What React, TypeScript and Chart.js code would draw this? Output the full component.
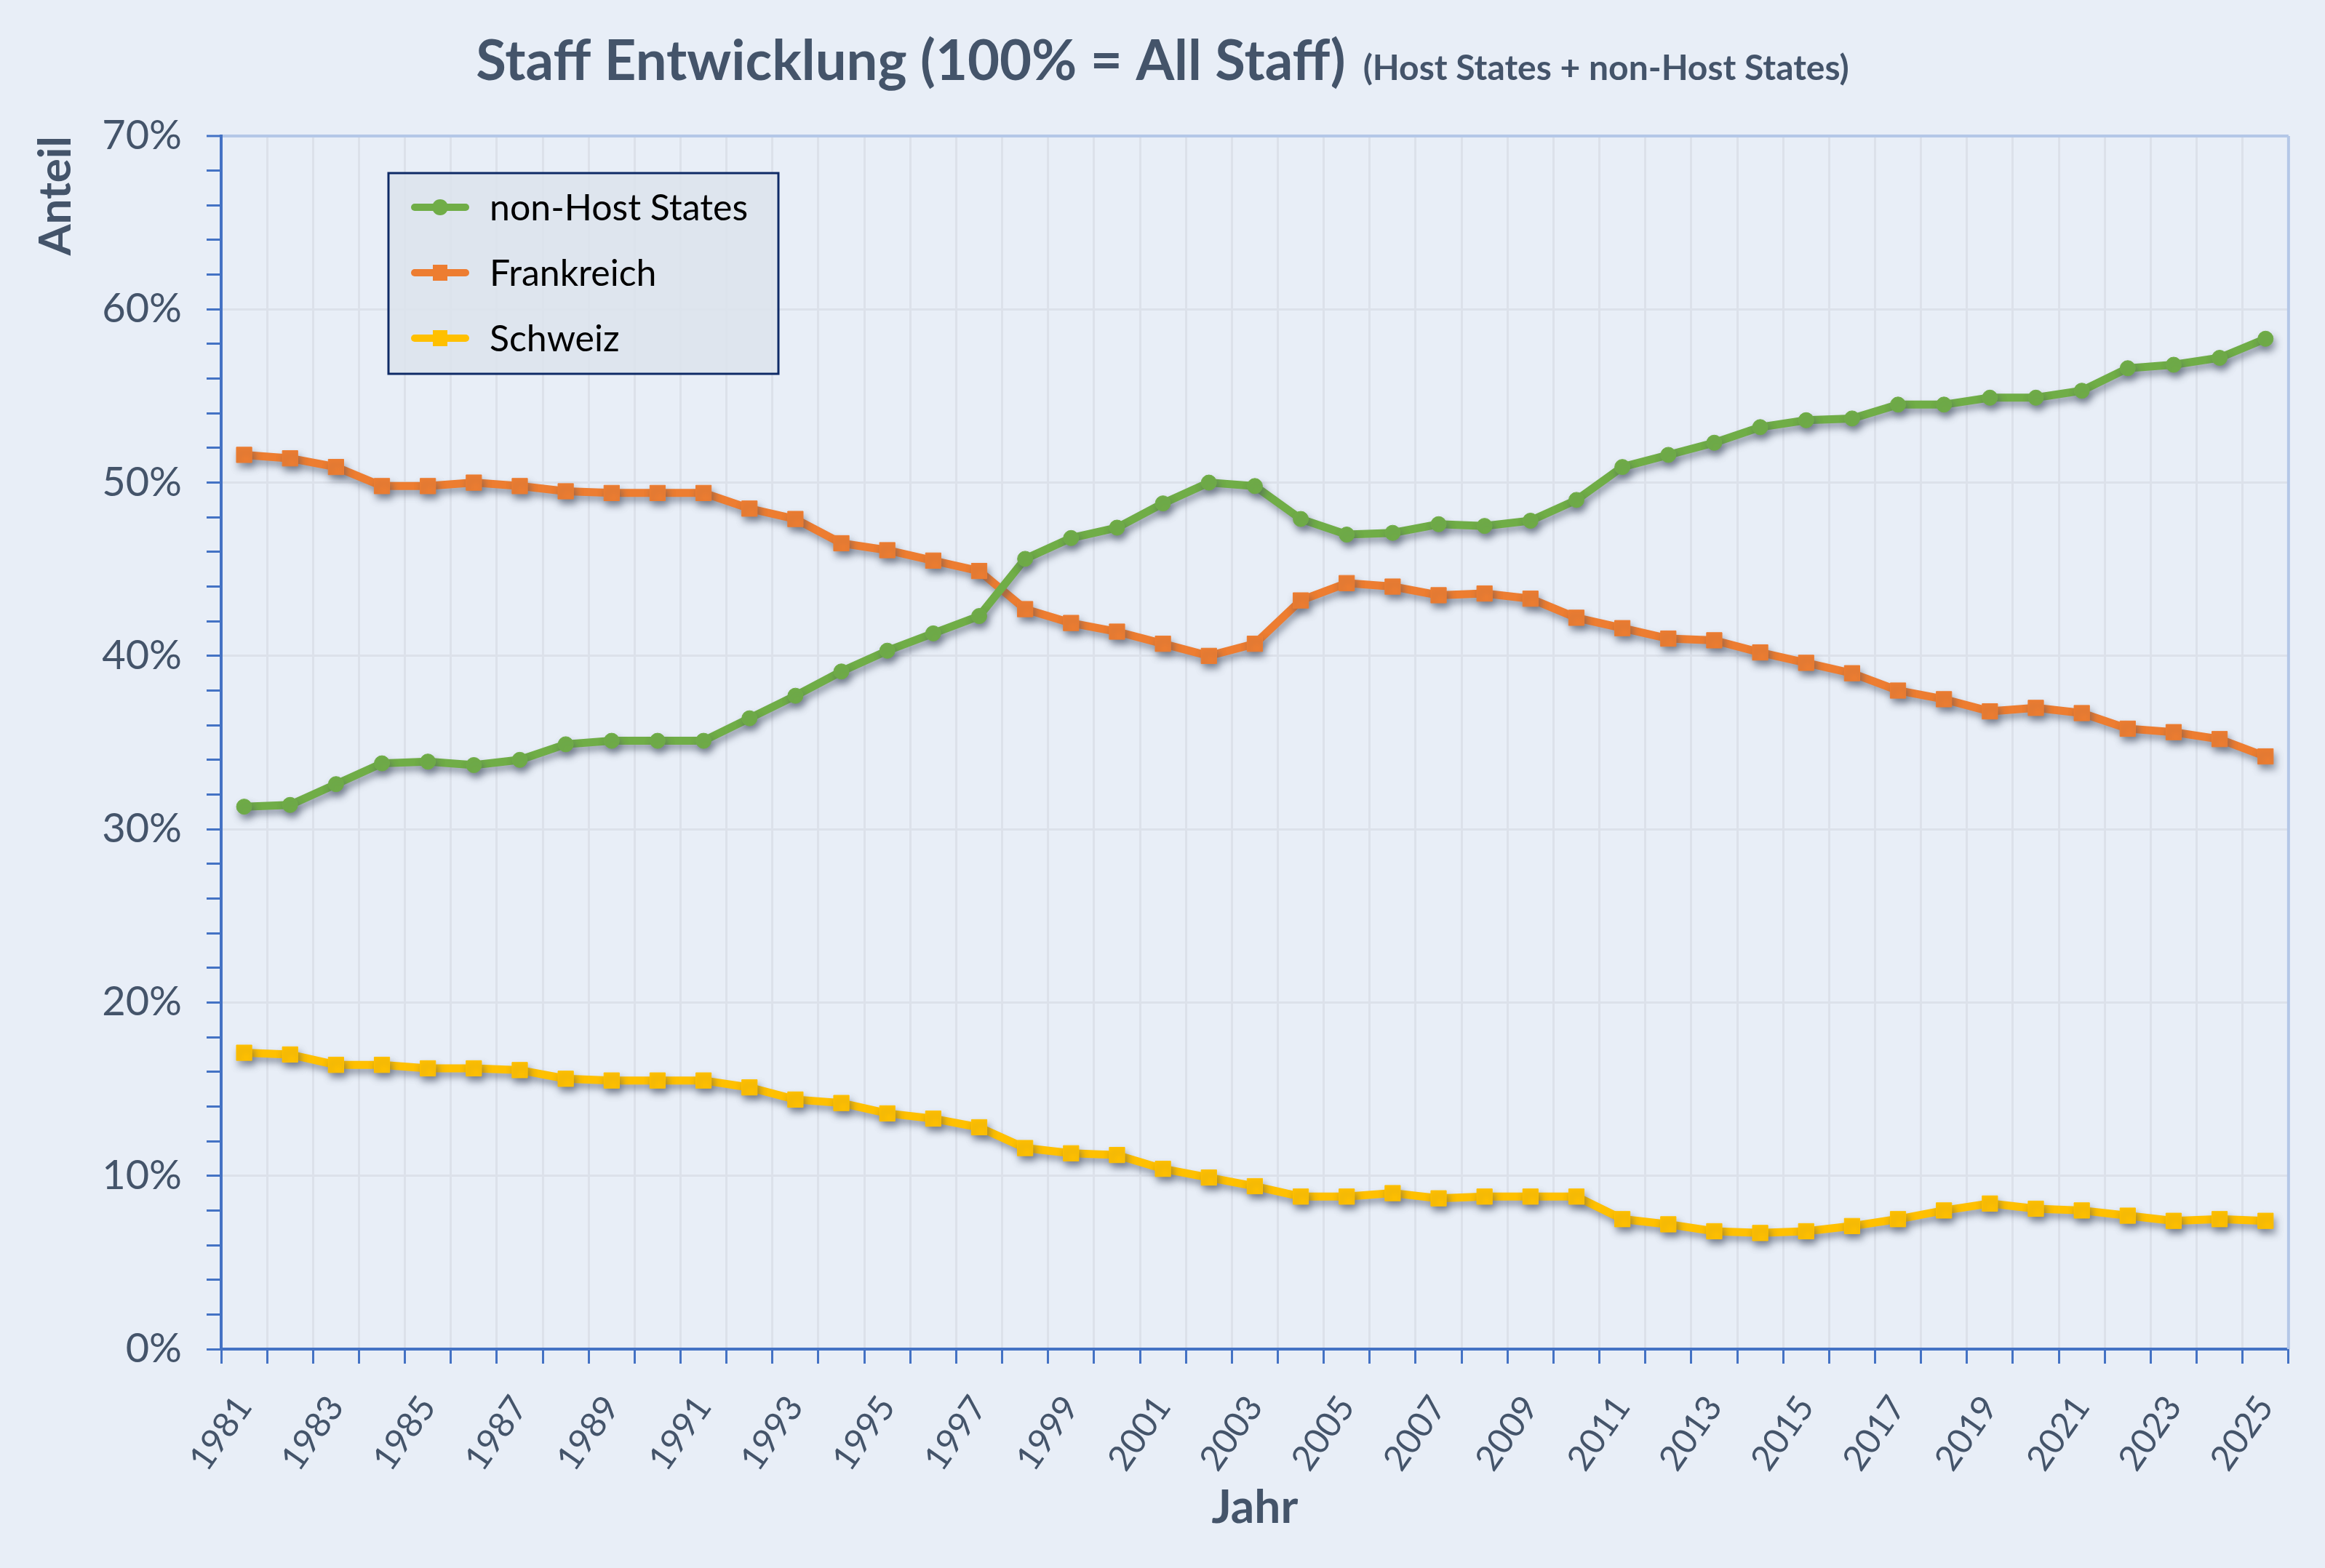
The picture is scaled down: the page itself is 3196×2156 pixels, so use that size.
import { useEffect, useRef } from 'react';
import Chart from 'chart.js/auto';

const FONT = 'Lato, "Noto Sans", sans-serif';
const TEXT = '#44546A';
const AXIS = '#4472C4';
const GRID = '#DCE1EA';
const FRAME = '#B4C7E7';
const BG = '#E8EEF7';

const years = [
  '1981', '1982', '1983', '1984', '1985', '1986', '1987', '1988', '1989', '1990',
  '1991', '1992', '1993', '1994', '1995', '1996', '1997', '1998', '1999', '2000',
  '2001', '2002', '2003', '2004', '2005', '2006', '2007', '2008', '2009', '2010',
  '2011', '2012', '2013', '2014', '2015', '2016', '2017', '2018', '2019', '2020',
  '2021', '2022', '2023', '2024', '2025',
];

const nonHostStates = [
  31.3, 31.4, 32.6, 33.8, 33.9, 33.7, 34.0, 34.9, 35.1, 35.1, 35.1, 36.4,
  37.7, 39.1, 40.3, 41.3, 42.3, 45.6, 46.8, 47.4, 48.8, 50.0, 49.8,
  47.9, 47.0, 47.1, 47.6, 47.5, 47.8, 49.0, 50.9, 51.6, 52.3, 53.2,
  53.6, 53.7, 54.5, 54.5, 54.9, 54.9, 55.3, 56.6, 56.8, 57.2, 58.3,
];

const frankreich = [
  51.6, 51.4, 50.9, 49.8, 49.8, 50.0, 49.8, 49.5, 49.4, 49.4, 49.4, 48.5,
  47.9, 46.5, 46.1, 45.5, 44.9, 42.7, 41.9, 41.4, 40.7, 40.0, 40.7,
  43.2, 44.2, 44.0, 43.5, 43.6, 43.3, 42.2, 41.6, 41.0, 40.9, 40.2,
  39.6, 39.0, 38.0, 37.5, 36.8, 37.0, 36.7, 35.8, 35.6, 35.2, 34.2,
];

const schweiz = [
  17.1, 17.0, 16.4, 16.4, 16.2, 16.2, 16.1, 15.6, 15.5, 15.5, 15.5, 15.1,
  14.4, 14.2, 13.6, 13.3, 12.8, 11.6, 11.3, 11.2, 10.4, 9.9, 9.4,
  8.8, 8.8, 9.0, 8.7, 8.8, 8.8, 8.8, 7.5, 7.2, 6.8, 6.7,
  6.8, 7.1, 7.5, 8.0, 8.4, 8.1, 8.0, 7.7, 7.4, 7.5, 7.4,
];

const seriesNames = ['non-Host States', 'Frankreich', 'Schweiz'];
const seriesColors = ['#70AD47', '#ED7D31', '#FFC000'];

const yMin = 0;
const yMax = 70;
const yMinorStep = 2;
const yMajorStep = 10;

const titleMain = 'Staff Entwicklung (100% = All Staff)';
const titleSub = '(Host States + non-Host States)';

const backgroundPlugin = {
  id: 'bg',
  beforeDraw(chart: Chart) {
    const ctx = chart.ctx;
    ctx.save();
    ctx.fillStyle = BG;
    ctx.fillRect(0, 0, chart.width, chart.height);
    ctx.restore();
  },
};

// right frame line + drop shadow under the series
const shadowPlugin = {
  id: 'shadow',
  beforeDatasetsDraw(chart: Chart) {
    const { ctx, chartArea } = chart;
    ctx.save();
    ctx.strokeStyle = FRAME;
    ctx.lineWidth = 4;
    ctx.beginPath();
    ctx.moveTo(chartArea.right, chartArea.top);
    ctx.lineTo(chartArea.right, chartArea.bottom);
    ctx.stroke();
    ctx.restore();

    ctx.save();
    ctx.shadowColor = 'rgba(70, 80, 100, 0.5)';
    ctx.shadowBlur = 10;
    ctx.shadowOffsetX = 3;
    ctx.shadowOffsetY = 7;
  },
  afterDatasetsDraw(chart: Chart) {
    chart.ctx.restore();
  },
};

const titlePlugin = {
  id: 'twoPartTitle',
  afterDraw(chart: Chart) {
    const ctx = chart.ctx;
    ctx.save();
    ctx.fillStyle = TEXT;
    ctx.textBaseline = 'alphabetic';
    ctx.textAlign = 'left';
    ctx.font = `bold 76px ${FONT}`;
    const w1 = ctx.measureText(titleMain).width;
    ctx.font = `bold 48px ${FONT}`;
    const w2 = ctx.measureText(titleSub).width;
    const gap = 24;
    const x0 = chart.width / 2 - (w1 + gap + w2) / 2;
    const y = 110;
    ctx.font = `bold 76px ${FONT}`;
    ctx.fillText(titleMain, x0, y);
    ctx.font = `bold 48px ${FONT}`;
    ctx.fillText(titleSub, x0 + w1 + gap, y);
    ctx.restore();
  },
};

const legendPlugin = {
  id: 'boxLegend',
  afterDraw(chart: Chart) {
    const { ctx, chartArea } = chart;
    const bx = chartArea.left + 230;
    const by = chartArea.top + 51;
    const bw = 536;
    const bh = 276;
    ctx.save();
    ctx.fillStyle = 'rgba(220, 227, 236, 0.85)';
    ctx.fillRect(bx, by, bw, bh);
    ctx.strokeStyle = '#0E2A66';
    ctx.lineWidth = 3;
    ctx.strokeRect(bx, by, bw, bh);

    chart.data.datasets.forEach((ds: any, i: number) => {
      const cy = by + 47 + i * 90;
      const color = ds.borderColor as string;
      ctx.strokeStyle = color;
      ctx.lineWidth = 10;
      ctx.lineCap = 'round';
      ctx.beginPath();
      ctx.moveTo(bx + 36, cy);
      ctx.lineTo(bx + 106, cy);
      ctx.stroke();
      ctx.fillStyle = color;
      const mx = bx + 71;
      if (ds.pointStyle === 'circle') {
        ctx.beginPath();
        ctx.arc(mx, cy, 11, 0, Math.PI * 2);
        ctx.fill();
      } else {
        ctx.fillRect(mx - 10, cy - 11, 20, 22);
      }
      ctx.fillStyle = '#000000';
      ctx.font = `50px ${FONT}`;
      ctx.textBaseline = 'middle';
      ctx.textAlign = 'left';
      ctx.fillText(ds.label, bx + 139, cy + 2);
    });
    ctx.restore();
  },
};

export default function App() {
  const canvasRef = useRef<HTMLCanvasElement>(null);
  const chartRef = useRef<Chart | null>(null);

  useEffect(() => {
    if (!canvasRef.current) return;
    if (chartRef.current) chartRef.current.destroy();

    const values = [nonHostStates, frankreich, schweiz];
    const datasets = values.map((data, i) => ({
      label: seriesNames[i],
      data,
      borderColor: seriesColors[i],
      backgroundColor: seriesColors[i],
      borderWidth: 11,
      pointStyle: i === 0 ? 'circle' : 'rect',
      pointRadius: i === 0 ? 10.5 : 15,
      pointBorderWidth: 1,
      pointBorderColor: seriesColors[i],
      pointBackgroundColor: seriesColors[i],
      tension: 0,
      fill: false,
    }));

    chartRef.current = new Chart(canvasRef.current, {
      type: 'line',
      data: { labels: years, datasets },
      plugins: [backgroundPlugin, shadowPlugin, titlePlugin, legendPlugin],
      options: {
        animation: false,
        responsive: true,
        maintainAspectRatio: false,
        devicePixelRatio: 1,
        layout: { padding: { top: 187, right: 49, left: 0, bottom: 0 } },
        plugins: {
          legend: { display: false },
          title: { display: false },
          tooltip: { enabled: false },
        },
        scales: {
          x: {
            offset: true,
            grid: {
              offset: true,
              color: GRID,
              lineWidth: 3,
              tickColor: AXIS,
              tickLength: 20,
              tickWidth: 3,
            },
            border: { color: AXIS, width: 4 },
            ticks: {
              autoSkip: false,
              minRotation: 55,
              maxRotation: 55,
              padding: 34,
              color: TEXT,
              font: { family: FONT, size: 48 },
              callback: (_v: any, i: number) => (i % 2 === 0 ? years[i] : ''),
            },
            title: {
              display: true,
              text: 'Jahr',
              color: TEXT,
              font: { family: FONT, size: 64, weight: 'bold' },
              padding: { top: 44, bottom: 44 },
            },
            afterFit: (s: any) => {
              s.height = 301;
            },
          },
          y: {
            min: yMin,
            max: yMax,
            grid: {
              color: (c: any) =>
                c.tick.value === yMax
                  ? FRAME
                  : c.tick.value % yMajorStep === 0
                  ? GRID
                  : 'rgba(0,0,0,0)',
              lineWidth: (c: any) => (c.tick.value === yMax ? 4 : 3),
              tickColor: AXIS,
              tickLength: 20,
              tickWidth: 3,
            },
            border: { color: AXIS, width: 4 },
            ticks: {
              stepSize: yMinorStep,
              autoSkip: false,
              padding: 34,
              color: TEXT,
              font: { family: FONT, size: 56 },
              callback: (v: any) => (v % yMajorStep === 0 ? `${v}%` : ''),
            },
            title: {
              display: true,
              text: 'Anteil',
              align: 'end',
              color: TEXT,
              font: { family: FONT, size: 62, weight: 'bold' },
              padding: { top: 40, bottom: 40 },
            },
            afterFit: (s: any) => {
              s.width = 304;
            },
          },
        },
      },
    } as any);

    return () => {
      if (chartRef.current) {
        chartRef.current.destroy();
        chartRef.current = null;
      }
    };
  }, []);

  return (
    <div style={{ position: 'fixed', left: 0, top: 0, width: 3196, height: 2156, background: BG }}>
      <canvas ref={canvasRef} />
    </div>
  );
}
